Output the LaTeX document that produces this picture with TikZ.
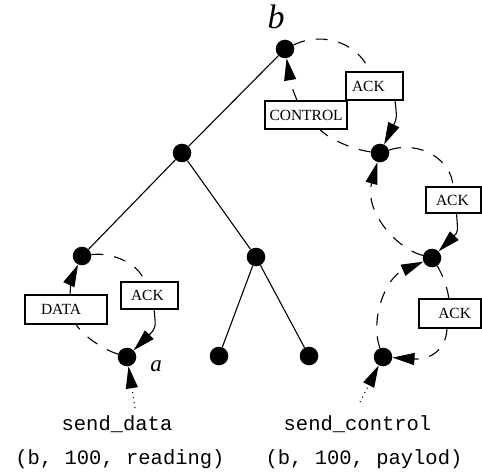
\documentclass[tikz,border=0pt]{standalone}
\usepackage{fontspec}
\setmainfont{Liberation Serif}
\setmonofont{Liberation Mono}
\usetikzlibrary{arrows.meta}
\begin{document}
\begin{tikzpicture}[x=1pt,y=-1pt,
  dot/.style={circle,fill=black,inner sep=0pt,minimum size=18.6pt},
  tree/.style={line width=1.1pt},
  conn/.style={line width=1.1pt,dash pattern=on 12pt off 11pt},
  solidconn/.style={line width=1.1pt},
  dotconn/.style={line width=1.1pt,dash pattern=on 1pt off 4pt},
  tip/.style={-{Triangle[length=22pt,width=12pt]}},
  box/.style={draw,line width=1.1pt,inner ysep=0pt,align=left,
    font=\fontsize{15.5}{18}\selectfont},
  mono/.style={font=\fontsize{20.5}{24}\ttfamily,inner sep=0pt,anchor=base},
  lbl/.style={inner sep=0pt}
]
\useasboundingbox (0,0) rectangle (482,473);

% tree nodes
\node[dot] (b)  at (285,49) {};
\node[dot] (m1) at (182,153) {};
\node[dot] (l)  at (82,256) {};
\node[dot] (mid) at (256,257) {};
\node[dot] (a)  at (127,357) {};
\node[dot] (f1) at (219,356) {};
\node[dot] (f2) at (309,356) {};
\node[dot] (r1) at (380,153) {};
\node[dot] (r2) at (432,258) {};
\node[dot] (r3) at (383,357) {};

% labels
\node[lbl,font=\fontsize{34}{40}\selectfont\itshape] (blabel) at (276,17) {b};
\node[lbl,font=\fontsize{23}{28}\selectfont\itshape] (alabel) at (156,366) {a};

% boxes
\node[box,minimum height=28pt,inner xsep=6pt,text width=45pt] (ackt) at (374.5,86) {ACK};
\node[box,minimum height=28pt,inner xsep=4.5pt,text width=73pt] (ctrl) at (306,115) {CONTROL};
\node[box,minimum height=26pt,inner xsep=10pt,text width=35pt] (ack1) at (453.5,200) {ACK};
\node[box,minimum height=29pt,inner xsep=10pt,text width=42pt,align=right] (ack2) at (450,313.5) {ACK};
\node[box,minimum height=27pt,inner xsep=10pt,text width=37pt] (ackl) at (149.5,295.5) {ACK};
\node[box,minimum height=29pt,inner xsep=16pt,text width=50pt] (data) at (66,309.5) {DATA};

% texts
\node[mono] (sdname) at (117,430) {send\_data};
\node[mono] (sdargs) at (120,464) {(b, 100, reading)};
\node[mono] (scname) at (357.5,430) {send\_control};
\node[mono] (scargs) at (364,464) {(b, 100, paylod)};
\coordinate (sd) at (135,408);
\coordinate (sc) at (360,402);

% tree edges
\draw[tree] (b) -- (m1);
\draw[tree] (m1) -- (l);
\draw[tree] (m1) -- (mid);
\draw[tree] (mid) -- (f1);
\draw[tree] (mid) -- (f2);

% left cycle
\draw[conn] (l) .. controls (110,252) and (138,262) .. (ackl);
\draw[solidconn,tip] ([xshift=4.5pt]ackl.south) .. controls (156,328) .. (a);
\draw[conn] (a) .. controls (105,350) and (85,338) .. (data);
\draw[solidconn,tip] ([xshift=4pt]data.north) .. controls (71,280) .. (l);
\draw[dotconn,tip] (sd) -- (a);

% right cycle
\draw[conn] (b) .. controls (325,30) and (360,45) .. (ackt);
\draw[solidconn,tip] ([xshift=20.5pt]ackt.south) .. controls (397,118) .. (r1);
\draw[conn] (r1) .. controls (355,150) and (330,140) .. (ctrl);
\draw[conn,tip] ([xshift=-9pt]ctrl.north) .. controls (291,85) .. (b);
\draw[conn] (r1) .. controls (420,140) and (452,160) .. (ack1);
\draw[solidconn,tip] ([xshift=3pt]ack1.south) .. controls (458,232) .. (r2);
\draw[conn,tip] (r2) .. controls (395,248) and (364,210) .. (r1);
\draw[conn] (r2) .. controls (443,275) and (448,290) .. (ack2);
\draw[conn,tip] ([xshift=-3pt]ack2.south) .. controls (446,350) and (430,360) .. (r3);
\draw[conn,tip] (r3) .. controls (370,320) and (385,278) .. (r2);
\draw[dotconn,tip] (sc) -- (r3);
\end{tikzpicture}
\end{document}
